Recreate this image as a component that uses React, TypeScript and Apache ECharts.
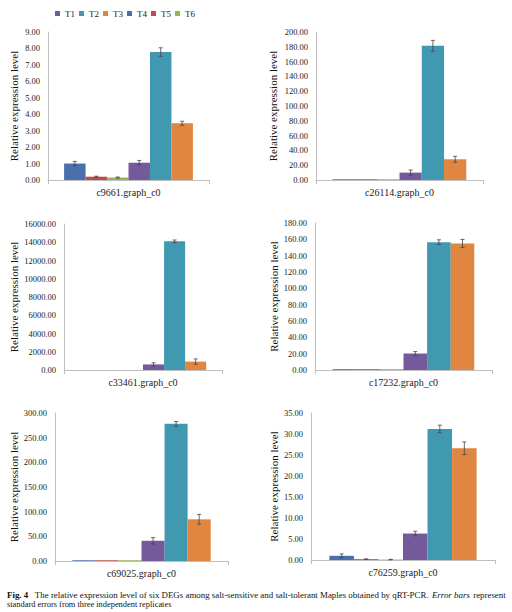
import React, { useEffect, useRef } from "react";
import * as echarts from "echarts";

const treatments = ["T1", "T2", "T3", "T4", "T5", "T6"];
const barOrder = ["T4", "T5", "T6", "T1", "T2", "T3"];
const genes = [
  "c9661.graph_c0",
  "c26114.graph_c0",
  "c33461.graph_c0",
  "c17232.graph_c0",
  "c69025.graph_c0",
  "c76259.graph_c0",
];

// values per treatment, one entry per gene (same order as genes)
const T1 = [1.05, 10.0, 610, 20.2, 41, 6.3];
const T2 = [7.78, 181.5, 14100, 156.5, 278, 31.2];
const T3 = [3.45, 28.0, 920, 155, 84.5, 26.6];
const T4 = [1.0, 1.0, 1.0, 1.0, 1.5, 1.0];
const T5 = [0.2, 1.0, 1.0, 1.0, 1.5, 0.2];
const T6 = [0.15, 1.0, 1.0, 1.0, 1.5, 0.1];

// standard errors
const T1err = [0.14, 3.5, 180, 2.4, 6.5, 0.55];
const T2err = [0.26, 7.2, 145, 2.9, 4.8, 0.9];
const T3err = [0.12, 4.0, 290, 4.9, 10, 1.5];
const T4err = [0.13, 0, 0, 0, 0, 0.45];
const T5err = [0.03, 0, 0, 0, 0, 0.05];
const T6err = [0.03, 0, 0, 0, 0, 0.05];

// y-axis ranges
const yMax = [9, 200, 16000, 180, 300, 35];
const yStep = [1, 20, 2000, 20, 50, 5];

const values: Record<string, number[]> = { T1, T2, T3, T4, T5, T6 };
const errors: Record<string, number[]> = {
  T1: T1err,
  T2: T2err,
  T3: T3err,
  T4: T4err,
  T5: T5err,
  T6: T6err,
};

const colors: Record<string, string> = {
  T1: "#745A9A",
  T2: "#4098B1",
  T3: "#E08640",
  T4: "#4A70AA",
  T5: "#BE4B48",
  T6: "#93B557",
};

// grid layout [left, top, width, height]
const grids = [
  [48, 32, 161, 148],
  [316, 32, 167, 148],
  [64, 224, 158, 146],
  [315, 223, 177, 147],
  [55, 413, 173, 148],
  [311, 413, 184, 147],
];
const nameGaps = [29, 38, 45, 36, 36, 32];

const FONT = "Liberation Serif";

export default function App() {
  const ref = useRef<HTMLDivElement>(null);

  useEffect(() => {
    document.body.style.margin = "0";
    if (!ref.current) return;
    const chart = echarts.init(ref.current, undefined, { renderer: "svg" });

    const series: any[] = [];
    genes.forEach((gene, g) => {
      barOrder.forEach((t) => {
        series.push({
          type: "bar",
          name: t,
          xAxisIndex: g,
          yAxisIndex: g,
          data: [values[t][g]],
          barGap: "0%",
          barCategoryGap: "20%",
          itemStyle: { color: colors[t] },
        });
      });
      series.push({
        type: "custom",
        xAxisIndex: g,
        yAxisIndex: g,
        z: 5,
        silent: true,
        encode: { x: 0, y: 1 },
        data: barOrder.map((t, slot) => [0, values[t][g], errors[t][g], slot]),
        renderItem: (params: any, api: any) => {
          const v = api.value(1);
          const e = api.value(2);
          const slot = api.value(3);
          if (!e) return null;
          const band = api.size([1, 0])[0];
          const barW = (band * 0.8) / 6;
          const c = api.coord([0, v]);
          const x = c[0] - band * 0.4 + barW * (slot + 0.5);
          const yT = api.coord([0, v + e])[1];
          const yB = api.coord([0, Math.max(0, v - e)])[1];
          const cap = 2;
          const style = { stroke: "#444", lineWidth: 0.8 };
          return {
            type: "group",
            children: [
              { type: "line", shape: { x1: x, y1: yT, x2: x, y2: yB }, style },
              { type: "line", shape: { x1: x - cap, y1: yT, x2: x + cap, y2: yT }, style },
              { type: "line", shape: { x1: x - cap, y1: yB, x2: x + cap, y2: yB }, style },
            ],
          };
        },
      });
    });

    chart.setOption({
      animation: false,
      backgroundColor: "#ffffff",
      textStyle: { fontFamily: FONT },
      legend: {
        data: treatments,
        top: 4,
        left: 50,
        icon: "rect",
        itemWidth: 5,
        itemHeight: 5,
        itemGap: 4,
        textStyle: { fontSize: 9, color: "#222", fontFamily: FONT },
      },
      grid: grids.map((p) => ({
        left: p[0],
        top: p[1],
        width: p[2],
        height: p[3],
        containLabel: false,
      })),
      xAxis: genes.map((gene, g) => ({
        type: "category",
        gridIndex: g,
        data: [gene],
        axisLine: { show: true, lineStyle: { color: "#BFBFBF", width: 1 } },
        axisTick: { show: true, length: 4, lineStyle: { color: "#BFBFBF" } },
        axisLabel: { fontSize: 10, color: "#222", margin: 7, fontFamily: FONT },
      })),
      yAxis: genes.map((gene, g) => ({
        type: "value",
        gridIndex: g,
        min: 0,
        max: yMax[g],
        interval: yStep[g],
        name: "Relative expression level",
        nameLocation: "middle",
        nameGap: nameGaps[g],
        nameTextStyle: { fontSize: 11, color: "#111", fontFamily: FONT },
        axisLine: { show: true, lineStyle: { color: "#BFBFBF", width: 1 } },
        axisTick: { show: false },
        splitLine: { show: false },
        axisLabel: {
          fontSize: 8.5,
          color: "#222",
          margin: 8,
          fontFamily: FONT,
          formatter: (v: number) => v.toFixed(2),
        },
      })),
      series,
      graphic: [
        {
          type: "text",
          x: 7,
          y: 595,
          style: {
            text:
              "{b|Fig. 4}  {n|The relative expression level of six DEGs among salt-sensitive and salt-tolerant Maples obtained by qRT-PCR.} {i|Error bars} {n|represent}",
            verticalAlign: "middle",
            rich: {
              b: { fontWeight: "bold", fontSize: 8.9, fontFamily: FONT, fill: "#111", lineHeight: 9 },
              n: { fontSize: 8.9, fontFamily: FONT, fill: "#111", lineHeight: 9 },
              i: { fontStyle: "italic", fontSize: 8.9, fontFamily: FONT, fill: "#111", lineHeight: 9 },
            },
          },
        },
        {
          type: "text",
          x: 7,
          y: 604,
          style: {
            text: "standard errors from three independent replicates",
            verticalAlign: "middle",
            fontSize: 8.4,
            fontFamily: FONT,
            fill: "#111",
          },
        },
      ],
    });

    return () => chart.dispose();
  }, []);

  return <div ref={ref} style={{ width: 512, height: 612 }} />;
}
